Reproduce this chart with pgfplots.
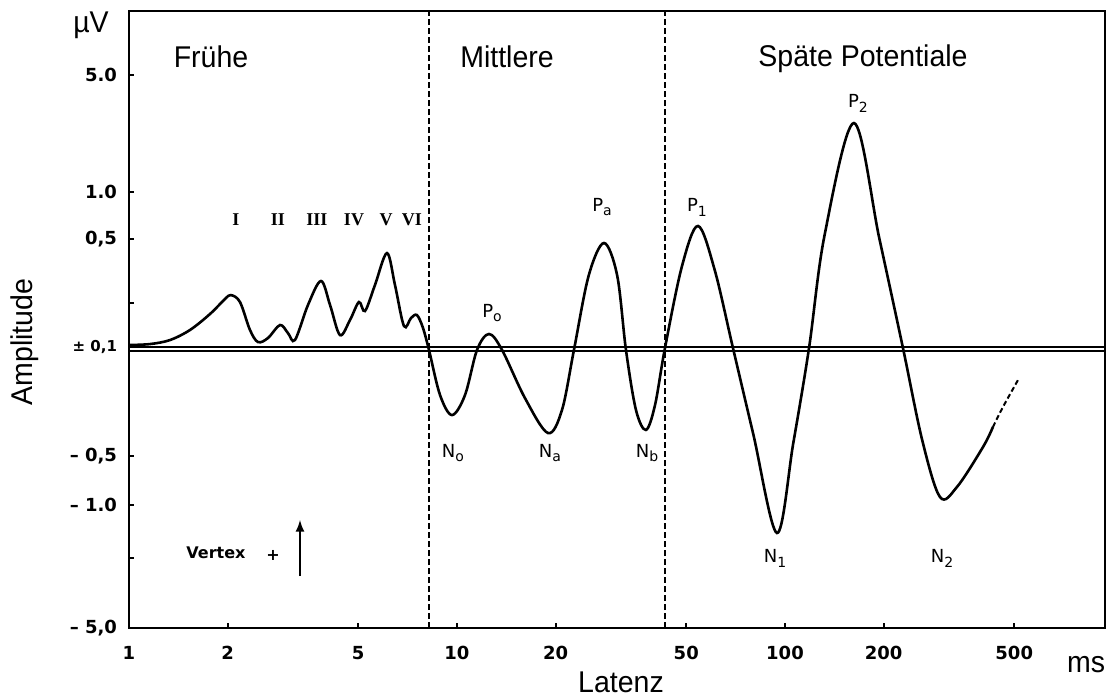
\documentclass[border=0pt]{standalone}
\usepackage{pgfplots}
\pgfplotsset{compat=1.18}
\usepackage{fontspec}
\setmainfont{Liberation Sans}
\newfontfamily\lblfont[FakeStretch=0.95]{Liberation Sans}
\newfontfamily\tickfont{DejaVu Sans}
\newfontfamily\romfont{Liberation Serif}
% peak name with lowered index
\newcommand\pk[2]{#1\raisebox{-0.5ex}{\fontsize{7}{7}\selectfont #2}}

% y axis is drawn on a signed log scale: u = sign * log10(|A| / 0.1 uV)
\pgfplotstableread{
x      u
1.000  0.013
1.159  0.019
1.334  0.045
1.535  0.110
1.766  0.213
1.963  0.310
2.046  0.335
2.180  0.290
2.338  0.110
2.474  0.032
2.653  0.058
2.887  0.142
3.053  0.090
3.207  0.045
3.513  0.271
3.849  0.426
4.102  0.271
4.398  0.077
4.718  0.174
5.025  0.290
5.242  0.232
5.623  0.400
6.117  0.606
6.471  0.400
6.893  0.135
7.241  0.187
7.551  0.206
7.877  0.123
8.215  -0.019
8.878  -0.310
9.656  -0.439
10.58  -0.310
11.51  -0.019
12.52  0.084
13.72  -0.019
16.12  -0.330
18.94  -0.555
20.90  -0.406
22.73  -0.019
25.20  0.460
28.07  0.671
30.80  0.460
32.75  -0.019
35.13  -0.406
37.69  -0.535
40.16  -0.374
43.07  -0.006
48.50  0.520
54.29  0.781
61.00  0.500
69.41  -0.006
80.00  -0.560
94.54  -1.200
106.0  -0.620
118.4  -0.006
132.0  0.720
162.3  1.445
194.0  0.700
228.9  -0.006
262.0  -0.600
296.9  -0.968
334.5  -0.903
401.6  -0.645
430.5  -0.516
}\wave

\pgfplotstableread{
x      u
430.5  -0.516
461.9  -0.387
513.4  -0.213
}\tail

\begin{document}
\begin{tikzpicture}
\useasboundingbox (-64.5pt,-35pt) rectangle (490.5pt,314pt);
\begin{axis}[
  at={(0,0)}, anchor=south west,
  scale only axis, width=488pt, height=308.5pt,
  xmode=log, xmin=1, xmax=945.5,
  ymin=-1.813, ymax=2.168,
  clip=false,
  axis line style={line width=1pt},
  tick align=inside, tick pos=left,
  major tick length=2.5pt,
  every tick/.style={black, line width=0.8pt},
  xminorticks=false, yminorticks=false,
  xtick={1,2,5,8.215,10,20,43.07,50,100,200,500},
  xticklabels={1,2,5,,10,20,,50,100,200,500},
  ytick={-1.813,-1.361,-1.019,-0.703,0,0.284,0.697,1,1.755},
  yticklabels={{– 5,0},{},{– 1.0},{– 0,5},{\fontsize{7.5}{8}\selectfont ± 0,1},{},{0,5},{1.0},{5.0}},
  ticklabel style={font=\tickfont\bfseries\fontsize{9}{10}\selectfont},
  xticklabel style={anchor=center, yshift=-12.5pt},
  yticklabel style={xshift=-2.5pt},
]
  % zero band and section borders
  \draw[line width=0.6pt] (axis cs:1,0) -- (axis cs:945.5,0);
  \draw[line width=0.6pt] (axis cs:1,-0.026) -- (axis cs:945.5,-0.026);
  \draw[dashed, dash pattern=on 3pt off 1.5pt, line width=0.6pt] (axis cs:8.215,-1.813) -- (axis cs:8.215,2.168);
  \draw[dashed, dash pattern=on 3pt off 1.5pt, line width=0.6pt] (axis cs:43.07,-1.813) -- (axis cs:43.07,2.168);

  \addplot[black, line width=1.3pt, smooth, tension=0.55] table[x=x, y=u] {\wave};
  \addplot[black, line width=1pt, dashed, dash pattern=on 2.5pt off 1.5pt, smooth] table[x=x, y=u] {\tail};
\end{axis}

% section titles and axis texts
\begin{scope}[every node/.style={font=\lblfont\fontsize{15}{18}\selectfont, inner sep=0pt}]
  \node[anchor=base] at (41pt,280pt) {Frühe};
  \node[anchor=base] at (189pt,280pt) {Mittlere};
  \node[anchor=base] at (367pt,280.5pt) {Späte Potentiale};
  \node[anchor=base] at (-19pt,298pt) {µV};
  \node[anchor=base] at (478.5pt,-22pt) {ms};
  \node[anchor=base] at (246pt,-32pt) {Latenz};
  \node[rotate=90] at (-52pt,143pt) {Amplitude};
\end{scope}

% brainstem waves
\begin{scope}[every node/.style={font=\romfont\bfseries\fontsize{9}{10}\selectfont, inner sep=0pt}]
  \node at (53.5pt,204pt) {I};
  \node at (74.5pt,204pt) {II};
  \node at (94pt,204pt) {III};
  \node at (112.5pt,204pt) {IV};
  \node at (128.5pt,204pt) {V};
  \node at (141.5pt,204pt) {VI};
\end{scope}

% middle and late components
\begin{scope}[every node/.style={font=\tickfont\fontsize{9}{10}\selectfont, inner sep=0pt}]
  \node at (181.5pt,157.5pt) {\pk{P}{o}};
  \node at (236.5pt,210.5pt) {\pk{P}{a}};
  \node at (284pt,210.5pt) {\pk{P}{1}};
  \node at (364.5pt,262.5pt) {\pk{P}{2}};
  \node at (162pt,87.5pt) {\pk{N}{o}};
  \node at (210.5pt,87.5pt) {\pk{N}{a}};
  \node at (259pt,87.5pt) {\pk{N}{b}};
  \node at (323pt,35pt) {\pk{N}{1}};
  \node at (406.5pt,35pt) {\pk{N}{2}};
\end{scope}

% polarity hint
\node[font=\tickfont\bfseries\fontsize{8}{9}\selectfont, inner sep=0pt] at (43.5pt,37.5pt) {Vertex};
\node[font=\tickfont\bfseries\fontsize{8}{9}\selectfont, inner sep=0pt] at (72pt,36.5pt) {+};
\draw[line width=1pt, -latex] (85.5pt,26pt) -- (85.5pt,54pt);
\end{tikzpicture}
\end{document}
